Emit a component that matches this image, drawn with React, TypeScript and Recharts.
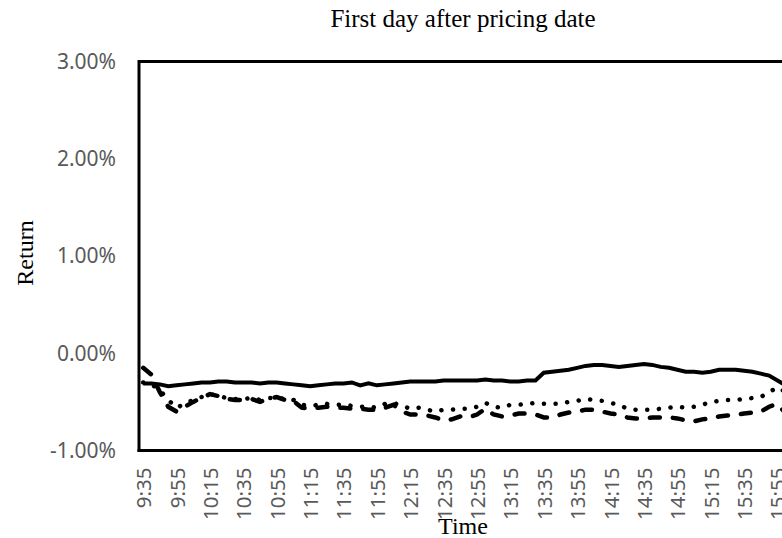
import React from 'react';
import { LineChart, Line, XAxis, YAxis, ReferenceLine } from 'recharts';

const times = [
  '9:35', '9:40', '9:45', '9:50', '9:55',
  '10:00', '10:05', '10:10', '10:15', '10:20', '10:25', '10:30', '10:35', '10:40', '10:45', '10:50', '10:55',
  '11:00', '11:05', '11:10', '11:15', '11:20', '11:25', '11:30', '11:35', '11:40', '11:45', '11:50', '11:55',
  '12:00', '12:05', '12:10', '12:15', '12:20', '12:25', '12:30', '12:35', '12:40', '12:45', '12:50', '12:55',
  '13:00', '13:05', '13:10', '13:15', '13:20', '13:25', '13:30', '13:35', '13:40', '13:45', '13:50', '13:55',
  '14:00', '14:05', '14:10', '14:15', '14:20', '14:25', '14:30', '14:35', '14:40', '14:45', '14:50', '14:55',
  '15:00', '15:05', '15:10', '15:15', '15:20', '15:25', '15:30', '15:35', '15:40', '15:45', '15:50', '15:55',
  '16:00',
];

const solidSeries = [
  -0.31, -0.31, -0.32, -0.34, -0.33, -0.32, -0.31, -0.30, -0.30, -0.29,
  -0.29, -0.30, -0.30, -0.30, -0.31, -0.30, -0.30, -0.31, -0.32, -0.33,
  -0.34, -0.33, -0.32, -0.31, -0.31, -0.30, -0.33, -0.31, -0.33, -0.32,
  -0.31, -0.30, -0.29, -0.29, -0.29, -0.29, -0.28, -0.28, -0.28, -0.28,
  -0.28, -0.27, -0.28, -0.28, -0.29, -0.29, -0.28, -0.28, -0.20, -0.19,
  -0.18, -0.17, -0.15, -0.13, -0.12, -0.12, -0.13, -0.14, -0.13, -0.12,
  -0.11, -0.12, -0.14, -0.15, -0.17, -0.19, -0.19, -0.20, -0.19, -0.17,
  -0.17, -0.17, -0.18, -0.19, -0.21, -0.23, -0.28, -0.33,
];

const dottedSeries = [
  -0.30, -0.32, -0.38, -0.48, -0.56, -0.52, -0.48, -0.45, -0.42, -0.44,
  -0.46, -0.47, -0.47, -0.46, -0.48, -0.46, -0.46, -0.47, -0.48, -0.53,
  -0.54, -0.53, -0.52, -0.53, -0.53, -0.54, -0.55, -0.55, -0.56, -0.52,
  -0.51, -0.54, -0.57, -0.56, -0.58, -0.60, -0.58, -0.58, -0.57, -0.57,
  -0.55, -0.51, -0.55, -0.56, -0.53, -0.53, -0.52, -0.51, -0.52, -0.52,
  -0.52, -0.50, -0.49, -0.47, -0.48, -0.49, -0.51, -0.53, -0.57, -0.58,
  -0.58, -0.58, -0.57, -0.56, -0.55, -0.56, -0.55, -0.53, -0.50, -0.49,
  -0.48, -0.48, -0.47, -0.46, -0.45, -0.40, -0.35, -0.40,
];

const dashedSeries = [
  -0.15, -0.22, -0.40, -0.55, -0.60, -0.55, -0.50, -0.46, -0.42, -0.44,
  -0.47, -0.48, -0.48, -0.47, -0.50, -0.47, -0.45, -0.48, -0.49, -0.56,
  -0.57, -0.56, -0.55, -0.56, -0.56, -0.57, -0.57, -0.58, -0.58, -0.56,
  -0.53, -0.60, -0.63, -0.63, -0.64, -0.66, -0.69, -0.68, -0.65, -0.66,
  -0.63, -0.57, -0.63, -0.65, -0.64, -0.62, -0.62, -0.63, -0.66, -0.66,
  -0.63, -0.61, -0.60, -0.58, -0.58, -0.60, -0.62, -0.63, -0.66, -0.67,
  -0.67, -0.66, -0.66, -0.66, -0.67, -0.69, -0.70, -0.68, -0.67, -0.65,
  -0.64, -0.63, -0.62, -0.61, -0.60, -0.55, -0.52, -0.62,
];

const yTicks = [-1, 0, 1, 2, 3];

const data = times.map((t, i) => ({
  time: t,
  solid: solidSeries[i],
  dotted: dottedSeries[i],
  dashed: dashedSeries[i],
}));

const TICK_FONT = "'Noto Sans', 'Open Sans', sans-serif";
const SERIF = "'Liberation Serif', 'Times New Roman', serif";

function XTick(props: any) {
  const { x, y, payload } = props;
  return (
    <text
      x={x}
      y={y}
      transform={`rotate(-90 ${x} ${y})`}
      textAnchor="end"
      dominantBaseline="central"
      fill="#595959"
      fontSize={20.5}
      fontFamily={TICK_FONT}
    >
      {payload.value}
    </text>
  );
}

export default function App() {
  return (
    <div
      style={{
        position: 'fixed',
        left: 0,
        top: 0,
        width: 782,
        height: 538,
        overflow: 'hidden',
        background: '#fff',
      }}
    >
      <LineChart
        width={790}
        height={538}
        data={data}
        margin={{ top: 61.5, right: 0, bottom: 0, left: 0 }}
      >
        <XAxis
          dataKey="time"
          interval={3}
          height={87.5}
          padding={{ left: 4.17, right: 4.17 }}
          tickLine={false}
          tickSize={0}
          tickMargin={17}
          axisLine={{ stroke: '#000', strokeWidth: 3, strokeLinecap: 'square' }}
          tick={<XTick />}
        />
        <YAxis
          domain={[-1, 3]}
          ticks={yTicks}
          width={139}
          tickLine={false}
          tickSize={0}
          tickMargin={23}
          axisLine={{ stroke: '#000', strokeWidth: 3, strokeLinecap: 'square' }}
          tickFormatter={(v: number) => `${v.toFixed(2)}%`}
          tick={{ fill: '#595959', fontSize: 21, fontFamily: TICK_FONT }}
        />
        <ReferenceLine y={3} stroke="#000" strokeWidth={3} />
        <Line
          type="linear"
          dataKey="solid"
          stroke="#000"
          strokeWidth={4}
          dot={false}
          isAnimationActive={false}
        />
        <Line
          type="linear"
          dataKey="dotted"
          stroke="#000"
          strokeWidth={4.5}
          strokeLinecap="round"
          strokeDasharray="0.1 11.6"
          dot={false}
          isAnimationActive={false}
        />
        <Line
          type="linear"
          dataKey="dashed"
          stroke="#000"
          strokeWidth={4.5}
          strokeLinecap="round"
          strokeDasharray="10 13"
          dot={false}
          isAnimationActive={false}
        />
      </LineChart>
      <svg
        width={782}
        height={538}
        style={{ position: 'absolute', left: 0, top: 0, pointerEvents: 'none' }}
      >
        <text x={463} y={27} textAnchor="middle" fontSize={25} fontFamily={SERIF} fill="#000">
          First day after pricing date
        </text>
        <text
          x={33}
          y={253}
          transform="rotate(-90 33 253)"
          textAnchor="middle"
          fontSize={24}
          fontFamily={SERIF}
          fill="#000"
        >
          Return
        </text>
        <text x={463} y={534} textAnchor="middle" fontSize={24} fontFamily={SERIF} fill="#000">
          Time
        </text>
      </svg>
    </div>
  );
}
